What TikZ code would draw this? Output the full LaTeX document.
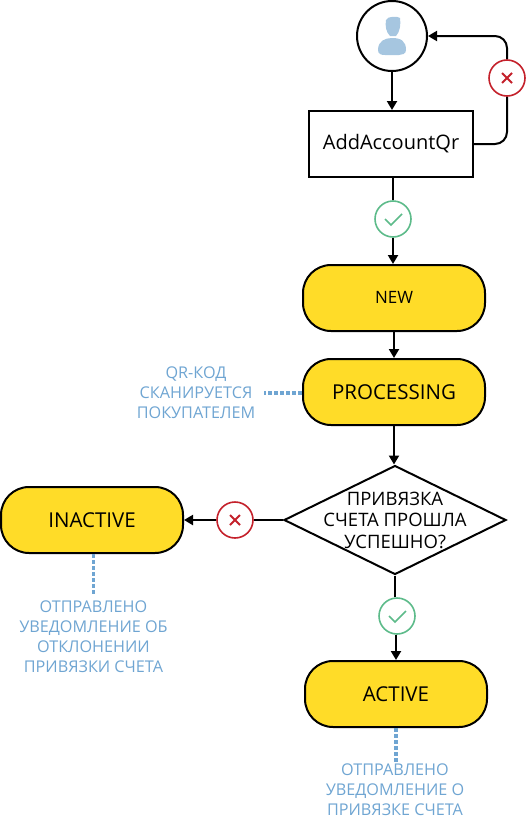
\documentclass[tikz,border=0pt]{standalone}
\usepackage{fontspec}
\setmainfont{Open Sans}
\usetikzlibrary{arrows.meta,shapes.geometric}
\definecolor{stateyellow}{HTML}{FFDC28}
\definecolor{noteblue}{HTML}{6FA5D2}
\definecolor{iconblue}{HTML}{A6C6E0}
\definecolor{okgreen}{HTML}{5DBB8A}
\definecolor{failred}{HTML}{C4212B}
\begin{document}
\begin{tikzpicture}
[x=1pt,y=-1pt,line width=2pt,>={Triangle[length=9pt,width=10pt]},%
  state/.style={shape=rectangle,rounded corners=28pt,draw,fill=stateyellow,
    minimum width=182pt,minimum height=66pt,inner sep=0pt,font=\fontsize{20.5}{24}\selectfont},%
  note/.style={text=noteblue,align=center,inner sep=0pt,font=\fontsize{16.2}{20}\selectfont},%
  link/.style={noteblue,line width=3.5pt,dash pattern=on 4pt off 2pt},%
  okmark/.style={shape=circle,draw=okgreen,line width=1.6pt,fill=white,minimum size=36pt,inner sep=0pt,
    path picture={\draw[okgreen,line width=1.6pt] ([shift={(-8pt,0pt)}]path picture bounding box.center)
      -- ++(6pt,-6pt) -- ++(11pt,11pt);}},%
  failmark/.style={shape=circle,draw=failred,line width=1.6pt,fill=white,minimum size=36pt,inner sep=0pt,
    path picture={\draw[failred,line width=1.8pt] ([shift={(-5pt,-5pt)}]path picture bounding box.center)
      -- ++(10pt,10pt) ++(-10pt,0pt) -- ++(10pt,-10pt);}}]
\useasboundingbox (0,0) rectangle (526,819);
% top of the flow
\node[shape=circle,draw,minimum size=70pt,inner sep=0pt] (user) at (392,36) {};
\fill[iconblue] (386,20) .. controls (387,16) and (398,16) .. (400,18)
  .. controls (401,24) and (400,32) .. (396,36) -- (390,36)
  .. controls (386,32) and (385,26) .. (386,20);
\fill[iconblue] (378,50) .. controls (378,41) and (385,38) .. (392,38)
  .. controls (401,38) and (406,41) .. (406,50) .. controls (406,54) and (402,55) .. (399,55)
  -- (385,55) .. controls (381,55) and (378,54) .. (378,50);
\node[shape=rectangle,draw,minimum width=164pt,minimum height=66pt,inner sep=0pt,
  font=\fontsize{20}{24}\selectfont] (addaccount) at (391,144) {AddAccountQr};
\node[failmark] (retry) at (507,78) {};
\node[okmark] (created) at (393,219) {};
% states
\node[state] (new) at (394,298) {\raisebox{2pt}{\fontsize{17}{20}\selectfont NEW}};
\node[state] (processing) at (394,392) {PROCESSING};
\node[shape=diamond,draw,fill=white,minimum width=222pt,minimum height=109pt,aspect=2.04,
  inner xsep=-40pt,inner ysep=-20pt,align=center,font=\fontsize{18.5}{21.5}\selectfont]
  (check) at (395,520) {ПРИВЯЗКА\\СЧЕТА ПРОШЛА\\УСПЕШНО?};
\node[failmark] (declined) at (235,520) {};
\node[state] (inactive) at (92,520) {INACTIVE};
\node[okmark] (passed) at (397,616) {};
\node[state] (active) at (396,694) {ACTIVE};
% notes
\node[note] (scan) at (196,393) {QR-КОД\\СКАНИРУЕТСЯ\\ПОКУПАТЕЛЕМ};
\node[note] (sentno) at (93.5,637) {ОТПРАВЛЕНО\\УВЕДОМЛЕНИЕ ОБ\\ОТКЛОНЕНИИ\\ПРИВЯЗКИ СЧЕТА};
\node[note] (sentyes) at (395,790) {ОТПРАВЛЕНО\\УВЕДОМЛЕНИЕ О\\ПРИВЯЗКЕ СЧЕТА};
% connectors
\draw[->] (user) -- (user|-addaccount.north);
\draw[rounded corners=12pt] (addaccount.east) -| (retry.south);
\draw[->,rounded corners=12pt] (retry.north) |- (user.east);
\draw (addaccount.south-|created) -- (created);
\draw[->] (created) -- (created|-new.north);
\draw[->] (new) -- (processing);
\draw[->] (processing) -- (processing|-check.north);
\draw (check.south) -- (check.south|-passed.north);
\draw[->] (active|-passed.south) -- (active);
\draw (check) -- (declined);
\draw[->] (declined) -- (inactive);
\draw[link,shorten >=8pt] (processing.west|-scan) -- (scan);
\draw[link,shorten >=6pt] (sentno|-inactive.south) -- (sentno);
\draw[link] (active.south) -- (active|-sentyes.north);
\end{tikzpicture}
\end{document}
